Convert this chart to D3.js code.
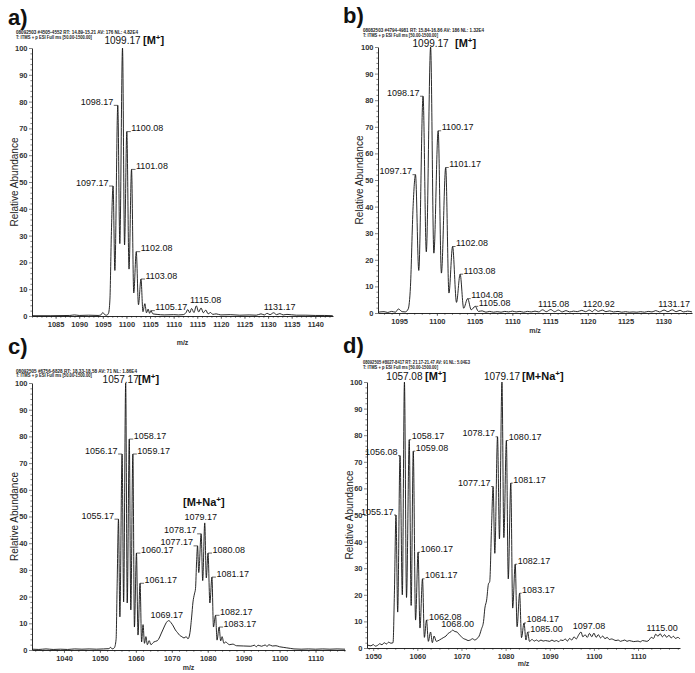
<!DOCTYPE html>
<html><head><meta charset="utf-8">
<script src="https://cdn.jsdelivr.net/npm/d3@7"></script>
<style>
body{margin:0;background:#fff}
svg text{font-family:'Liberation Sans',Arial,Helvetica,sans-serif}
</style></head><body>
<script>
// ---------------- DATA ----------------
const yTicks = [0,10,20,30,40,50,60,70,80,90,100];

// Panel a
const xTicksA = [1085,1090,1095,1100,1105,1110,1115,1120,1125,1130,1135,1140];
const spectrumA = [[1080,0.1],[1084,0.1],[1088,0.2],[1089,0.4],[1090,0.2],[1092,0.3],[1094,0.2],[1094.6,0.4],[1095.0,1.3],[1095.4,0.5],[1095.8,0.3],[1096.2,1.0],[1096.5,6],[1096.8,30],[1097.17,48.5],[1097.55,17],[1098.17,78.6],[1098.6,27],[1099.17,100],[1099.6,26.5],[1100.08,68.8],[1100.55,17.5],[1101.08,54.7],[1101.55,8.6],[1102.08,24],[1102.55,4.2],[1103.08,13.8],[1103.5,1.6],[1103.9,4.6],[1104.25,1.2],[1104.6,2.6],[1104.9,1.0],[1105.17,2.0],[1105.6,0.8],[1106.5,0.6],[1108,0.4],[1110,0.5],[1111,0.4],[1112,0.5],[1112.6,1.2],[1113.0,2.4],[1113.4,1.2],[1113.8,2.8],[1114.3,1.3],[1114.8,3.8],[1115.3,1.5],[1115.8,3.0],[1116.3,1.2],[1116.8,2.2],[1117.3,0.8],[1117.8,1.3],[1118.3,0.6],[1119,0.8],[1120,0.4],[1122,0.5],[1124,0.3],[1126,0.4],[1127.5,0.3],[1128.5,0.8],[1129.2,0.4],[1129.8,1.0],[1130.4,0.5],[1131.17,1.2],[1131.8,0.5],[1132.5,0.9],[1133.2,0.4],[1134,0.6],[1136,0.3],[1138,0.3],[1140,0.2],[1142,0.2],[1143.7,0.1]];
const labelsA = [[1099.17,100,"1099.17"],[1098.17,78.6,"1098.17"],[1097.17,48.5,"1097.17"],[1100.08,68.8,"1100.08"],[1101.08,54.7,"1101.08"],[1102.08,24,"1102.08"],[1103.08,13.8,"1103.08"],[1105.17,2.0,"1105.17"],[1115.08,3.8,"1115.08"],[1131.17,1.2,"1131.17"]];
const headerA = ["08092503 #4505-4552  RT: 14.89-15.21  AV: 176  NL: 4.82E4","T: ITMS + p ESI Full ms [50.00-1500.00]"];

// Panel b
const xTicksB = [1095,1100,1105,1110,1115,1120,1125,1130];
const spectrumB = [[1092.2,0.3],[1093,0.5],[1093.5,0.2],[1094,0.6],[1094.5,0.3],[1094.9,1.5],[1095.4,0.5],[1095.8,0.4],[1096.2,1.5],[1096.5,10],[1096.85,40],[1097.17,52],[1097.6,16],[1098.17,81.5],[1098.6,23],[1099.17,100],[1099.6,22.5],[1100.17,68.5],[1100.6,15],[1101.17,54.7],[1101.6,7.5],[1102.08,25],[1102.6,4],[1103.08,14.6],[1103.55,1.8],[1104.08,5.4],[1104.55,1.2],[1105.08,2.5],[1105.5,0.6],[1106,0.8],[1106.5,0.3],[1107,0.6],[1107.5,0.3],[1108,0.5],[1108.5,0.3],[1109,0.6],[1109.5,0.4],[1110,0.7],[1110.5,0.4],[1111,0.6],[1111.5,0.3],[1112,0.6],[1112.5,0.4],[1113,0.7],[1113.5,0.4],[1114,1.2],[1114.5,0.5],[1115.08,1.3],[1115.6,0.5],[1116.1,1.1],[1116.6,0.4],[1117.1,0.9],[1117.6,0.4],[1118.1,0.7],[1118.6,0.5],[1119.2,1.0],[1119.7,0.5],[1120.2,1.1],[1120.6,0.5],[1120.92,1.3],[1121.4,0.6],[1121.9,1.1],[1122.4,0.5],[1122.9,0.8],[1123.4,0.4],[1124,0.6],[1124.5,0.3],[1125,0.5],[1125.5,0.3],[1126,0.4],[1126.5,0.3],[1127,0.5],[1127.5,0.3],[1128,0.6],[1128.5,0.4],[1129,0.9],[1129.5,0.4],[1130.1,1.1],[1130.6,0.5],[1131.17,1.2],[1131.7,0.5],[1132.2,1.0],[1132.7,0.4],[1133.2,0.7],[1133.8,0.4]];
const labelsB = [[1099.17,100,"1099.17"],[1098.17,81.5,"1098.17"],[1097.17,52,"1097.17"],[1100.17,68.5,"1100.17"],[1101.17,54.7,"1101.17"],[1102.08,25,"1102.08"],[1103.08,14.6,"1103.08"],[1104.08,5.4,"1104.08"],[1105.08,2.5,"1105.08"],[1115.08,1.3,"1115.08"],[1120.92,1.3,"1120.92"],[1131.17,1.2,"1131.17"]];
const headerB = ["08082503 #4794-4981  RT: 15.84-16.86  AV: 186  NL: 1.32E4","T: ITMS + p ESI Full ms [50.00-1500.00]"];

// Panel c
const xTicksC = [1040,1050,1060,1070,1080,1090,1100,1110];
const spectrumC = [[1031.2,0.3],[1033,0.2],[1035,0.4],[1037,0.2],[1039,0.3],[1041,0.2],[1043,0.4],[1045,0.3],[1047,0.4],[1049,0.3],[1051,0.4],[1052.5,0.5],[1053,1.0],[1053.4,0.4],[1054,0.8],[1054.5,4],[1054.8,25],[1055.17,49],[1055.55,12.4],[1056.17,73.4],[1056.6,18],[1057.17,100],[1057.6,17.6],[1058.17,79],[1058.6,15],[1059.17,73.4],[1059.6,8.6],[1060.17,36.3],[1060.6,5.6],[1061.17,25],[1061.6,3],[1062.0,9.5],[1062.4,2.5],[1062.8,5],[1063.2,2],[1063.7,3.5],[1064.2,2],[1065,3],[1066,3.5],[1066.5,4.5],[1067,6],[1067.5,7.5],[1068,9],[1068.5,10.3],[1069.17,11],[1069.8,10.2],[1070.4,9],[1071,7.5],[1071.6,6.5],[1072.2,5.5],[1072.8,5],[1073.4,4.5],[1074,5],[1074.5,4.2],[1075,6],[1075.5,12],[1075.9,18],[1076.3,21],[1076.6,23],[1076.9,33],[1077.17,39],[1077.5,29],[1078.17,43.5],[1078.6,26],[1079.17,47.6],[1079.6,27],[1080.08,36.3],[1080.6,17.6],[1081.17,27.3],[1081.6,8.6],[1082.17,13],[1082.6,3.7],[1083.17,8.6],[1083.6,3.4],[1084.0,5],[1084.5,2.5],[1085,3],[1086,2],[1087,2.2],[1088,1.6],[1090,1.5],[1092,1.4],[1093,1.8],[1093.5,1.2],[1094,1.8],[1095,1.4],[1096,1.9],[1096.5,1.3],[1097,2.0],[1098,1.5],[1099,1.6],[1100,1.2],[1101,1.0],[1102,0.8],[1103,0.6],[1104,0.4],[1106,0.3],[1108,0.4],[1110,0.3],[1112,0.4],[1114,0.3],[1116,0.4],[1118.2,0.3]];
const labelsC = [[1057.17,100,"1057.17"],[1056.17,73.4,"1056.17"],[1055.17,49,"1055.17"],[1058.17,79,"1058.17"],[1059.17,73.4,"1059.17"],[1060.17,36.3,"1060.17"],[1061.17,25,"1061.17"],[1069.17,11,"1069.17"],[1077.17,39,"1077.17"],[1078.17,43.5,"1078.17"],[1079.17,47.6,"1079.17"],[1080.08,36.3,"1080.08"],[1081.17,27.3,"1081.17"],[1082.17,13,"1082.17"],[1083.17,8.6,"1083.17"]];
const headerC = ["08092505 #6756-6828  RT: 18.33-18.58  AV: 71  NL: 1.86E4","T: ITMS + p ESI Full ms [50.00-1500.00]"];

// Panel d
const xTicksD = [1050,1060,1070,1080,1090,1100,1110];
const spectrumD = [[1048.6,1.2],[1049.5,0.8],[1050,1.3],[1050.5,0.7],[1051,1.0],[1051.5,1.6],[1052,1.2],[1052.5,2],[1053,1.5],[1053.5,2.2],[1054,1.8],[1054.5,2],[1054.8,20],[1055.17,50],[1055.55,13.5],[1056.08,72.3],[1056.6,20],[1057.08,100],[1057.55,19],[1058.17,78.3],[1058.6,16],[1059.08,74],[1059.6,10.5],[1060.17,36],[1060.6,7.5],[1061.17,26],[1061.6,4],[1062.08,10.5],[1062.5,2.5],[1063,6],[1063.4,2],[1063.8,4.5],[1064.3,2.5],[1065,3],[1065.5,3.5],[1066,4],[1066.5,4.5],[1067,5.5],[1067.5,6],[1068,6.7],[1068.5,6.2],[1069,6],[1069.5,5],[1070,4.2],[1070.5,3.5],[1071,3.2],[1071.5,2.8],[1072,3],[1072.5,3.5],[1073,3],[1073.5,3.5],[1074,4.5],[1074.5,7],[1075,10],[1075.3,15],[1075.7,18],[1076.1,24],[1076.4,25],[1076.8,45],[1077.17,60.7],[1077.55,35.6],[1078.17,79.4],[1078.6,41],[1079.17,100],[1079.6,41.5],[1080.17,78],[1080.6,26],[1081.17,62],[1081.6,15],[1082.17,31.5],[1082.6,8],[1083.17,20.6],[1083.6,3.9],[1084.17,9.4],[1084.6,3],[1085.0,6],[1085.4,2.5],[1086,3.2],[1086.5,2.6],[1087,3],[1087.5,2.5],[1088,3],[1088.5,2.6],[1089,2.8],[1090,2.5],[1090.5,3],[1091,2.5],[1091.5,2.8],[1092,2.4],[1092.5,3.0],[1093,2.8],[1093.5,3.4],[1094,2.6],[1094.5,3.6],[1095,3.0],[1095.5,4.2],[1096,3.4],[1096.5,4.8],[1097.08,6],[1097.5,4.2],[1098,5],[1098.5,4],[1099,5.5],[1099.5,4.2],[1100,5.6],[1100.5,4],[1101,5],[1101.5,3.8],[1102,4.5],[1102.5,3.5],[1103,4],[1103.5,3.2],[1104,3.4],[1105,2.8],[1105.5,3],[1106,2.5],[1107,3],[1107.5,2.5],[1108,2.8],[1109,2.4],[1110,2.6],[1110.5,2.3],[1111,2.8],[1112,2.5],[1112.5,3],[1113,4],[1113.5,3.6],[1114,5.2],[1114.5,4.4],[1115,5.4],[1115.5,4.2],[1116,5],[1116.5,4],[1117,4.8],[1117.5,3.8],[1118,4.4],[1118.5,3.6],[1119,4],[1119.5,3.4]];
const labelsD = [[1057.08,100,"1057.08"],[1056.08,72.3,"1056.08"],[1055.17,50,"1055.17"],[1058.17,78.3,"1058.17"],[1059.08,74,"1059.08"],[1060.17,36,"1060.17"],[1061.17,26,"1061.17"],[1062.08,10.5,"1062.08"],[1068.00,6.7,"1068.00"],[1077.17,60.7,"1077.17"],[1078.17,79.4,"1078.17"],[1079.17,100,"1079.17"],[1080.17,78,"1080.17"],[1081.17,62,"1081.17"],[1082.17,31.5,"1082.17"],[1083.17,20.6,"1083.17"],[1084.17,9.4,"1084.17"],[1085.00,6,"1085.00"],[1097.08,6,"1097.08"],[1115.00,5.4,"1115.00"]];
const headerD = ["08092505 #8027-8417  RT: 21.17-21.47  AV: 91  NL: 5.04E3","T: ITMS + p ESI Full ms [50.00-1500.00]"];

// ---------------- LAYOUT ----------------
const panels = [
 {letter:"a)", spec:spectrumA, labels:labelsA, xt:xTicksA, minorStep:1, header:headerA, lead:4, mzGap:29,
  domain:[1080,1143.75], x0:32, x1:333, y0:316, y100:48, lx:8, ly:25, hx:16, hy:34, hw:[122,76], yl:15,
  side:{"1099.17":"main","1098.17":"left","1097.17":"left","1100.08":"right","1101.08":"right","1102.08":"right","1103.08":"right","1105.17":"right","1115.08":"top","1131.17":"top"},
  dx:{"1115.08":8,"1131.17":6}, mainGap:4.5, ions:[{t:"M",x:143,mz:1099.17}]},
 {letter:"b)", spec:spectrumB, labels:labelsB, xt:xTicksB, minorStep:1, header:headerB, lead:3, mzGap:20,
  domain:[1092.2,1133.8], x0:378, x1:692, y0:313, y100:47, lx:343, ly:23, hx:363, hy:32, hw:[121,75], yl:360,
  side:{"1099.17":"main","1098.17":"left","1097.17":"left","1100.17":"right","1101.17":"right","1102.08":"right","1103.08":"right","1104.08":"right","1105.08":"right","1115.08":"top","1120.92":"top","1131.17":"top"},
  dx:{"1115.08":3,"1120.92":4,"1131.17":2}, mainGap:0.5, ions:[{t:"M",x:455,mz:1099.17}]},
 {letter:"c)", spec:spectrumC, labels:labelsC, xt:xTicksC, minorStep:2, header:headerC, lead:4, mzGap:20,
  domain:[1031.1,1118.2], x0:32, x1:345, y0:650, y100:383, lx:8, ly:354, hx:16, hy:372.5, hw:[121,76], yl:15,
  side:{"1057.17":"main","1056.17":"left","1055.17":"left","1058.17":"right","1059.17":"right","1060.17":"right","1061.17":"right","1069.17":"top","1077.17":"left","1078.17":"left","1079.17":"top","1080.08":"right","1081.17":"right","1082.17":"right","1083.17":"right"},
  dx:{"1057.17":-5,"1079.17":-4,"1069.17":-2}, mainGap:0.5, ions:[{t:"M",x:138,mz:1057.17},{t:"M+Na",x:183,y:506}]},
 {letter:"d)", spec:spectrumD, labels:labelsD, xt:xTicksD, minorStep:2, header:headerD, lead:2, mzGap:18,
  domain:[1048.6,1119.5], x0:367, x1:680, y0:648, y100:382, lx:343, ly:353, hx:363, hy:364, hw:[107,75], yl:350,
  side:{"1057.08":"main","1056.08":"left","1055.17":"left","1058.17":"right","1059.08":"right","1060.17":"right","1061.17":"right","1062.08":"right","1068.00":"top","1077.17":"left","1078.17":"left","1079.17":"main","1080.17":"right","1081.17":"right","1082.17":"right","1083.17":"right","1084.17":"right","1085.00":"right","1097.08":"top","1115.00":"top"},
  dx:{"1097.08":8,"1068.00":5,"1115.00":2}, mainGap:2, ions:[{t:"M",x:425,mz:1057.08},{t:"M+Na",x:522,mz:1079.17}]}
];

// ---------------- DRAW ----------------
const W = 695, H = 673;
const svg = d3.select("body").append("svg").attr("width", W).attr("height", H)
  .style("display","block");

const FONT = "'Liberation Sans',Arial,sans-serif";

panels.forEach(P => {
  const g = svg.append("g");
  const sx = d3.scaleLinear().domain(P.domain).range([P.x0, P.x1]);
  const sy = d3.scaleLinear().domain([0,100]).range([P.y0, P.y100]);

  g.append("text").attr("x", P.lx).attr("y", P.ly).text(P.letter)
    .attr("font-size", 22).attr("font-weight", "bold").attr("fill","#111");

  P.header.forEach((h,i) => {
    g.append("text").attr("x", P.hx).attr("y", P.hy + i*4.6).text(h)
      .attr("font-size", 4.5).attr("font-weight","bold").attr("fill","#222")
      .attr("textLength", P.hw[i]).attr("lengthAdjust","spacingAndGlyphs");
  });

  // y axis
  const minorY = d3.range(0, 101, 2).filter(v => v % 10 !== 0);
  const yMinor = g.append("g").attr("transform", `translate(${P.x0},0)`)
    .call(d3.axisLeft(sy).tickValues(minorY).tickSize(1.6).tickSizeOuter(0).tickFormat(""));
  yMinor.select(".domain").remove();
  const yAx = g.append("g").attr("transform", `translate(${P.x0},0)`)
    .call(d3.axisLeft(sy).tickValues(yTicks).tickSize(3).tickSizeOuter(0).tickPadding(1.5));
  yAx.selectAll("text").attr("font-size", 7.5).attr("font-weight","bold").attr("fill","#333").attr("font-family",FONT);

  // x axis
  const minorX = d3.range(Math.ceil(P.domain[0]), P.domain[1], P.minorStep);
  const xMinor = g.append("g").attr("transform", `translate(0,${P.y0})`)
    .call(d3.axisBottom(sx).tickValues(minorX).tickSize(1.8).tickSizeOuter(0).tickFormat(""));
  xMinor.select(".domain").remove();
  const xAx = g.append("g").attr("transform", `translate(0,${P.y0})`)
    .call(d3.axisBottom(sx).tickValues(P.xt).tickSize(3).tickSizeOuter(0).tickPadding(3).tickFormat(d3.format("d")));
  xAx.selectAll("text").attr("font-size", 7.5).attr("font-weight","bold").attr("fill","#333").attr("font-family",FONT);
  g.selectAll(".domain").attr("stroke","#111").attr("stroke-width",0.9);
  g.selectAll(".tick line").attr("stroke","#333").attr("stroke-width",0.6);

  g.append("text").attr("x", (P.x0+P.x1)/2).attr("y", P.y0 + P.mzGap).attr("text-anchor","middle")
    .attr("font-size", 7).attr("font-weight","bold").attr("fill","#333").text("m/z");

  g.append("text").attr("transform", `translate(${P.yl},${(P.y0+P.y100)/2}) rotate(-90)`)
    .attr("text-anchor","middle").attr("dominant-baseline","middle")
    .attr("font-size", 10).attr("fill","#222").text("Relative Abundance");

  // spectrum
  const line = d3.line().x(d => sx(d[0])).y(d => sy(d[1])).curve(d3.curveMonotoneX);
  g.append("path").datum(P.spec).attr("d", line)
    .attr("fill","none").attr("stroke","#111").attr("stroke-width",0.9).attr("stroke-linejoin","round");

  // labels
  const lead = P.lead;
  P.labels.forEach(([mz, ab, t]) => {
    const px = sx(mz), py = sy(ab);
    const side = P.side[t] || "top";
    const dx = (P.dx && P.dx[t]) || 0;
    if (side === "left" || side === "right") {
      const s = side === "left" ? -1 : 1;
      g.append("path").attr("d", `M${px},${py}H${px + s*lead}`)
        .attr("stroke","#222").attr("stroke-width",0.7).attr("fill","none");
      g.append("text").attr("x", px + s*(lead+0.5)).attr("y", py - 0.5)
        .attr("text-anchor", side === "left" ? "end" : "start")
        .attr("font-size", 9).attr("fill","#111").text(t);
    } else if (side === "main") {
      g.append("text").attr("x", px + dx).attr("y", py - P.mainGap)
        .attr("text-anchor","middle").attr("font-size", 10).attr("fill","#111").text(t);
    } else {
      g.append("text").attr("x", px + dx).attr("y", py - 3)
        .attr("text-anchor","middle").attr("font-size", 9).attr("fill","#111").text(t);
    }
  });

  // ion annotations
  P.ions.forEach(ion => {
    const y = ion.y !== undefined ? ion.y : sy(100) - P.mainGap;
    const tx = g.append("text").attr("x", ion.x).attr("y", y)
      .attr("font-size", 11).attr("font-weight","bold").attr("fill","#111");
    tx.append("tspan").text("[" + ion.t);
    tx.append("tspan").attr("font-size", 8).attr("dy", -4).text("+");
    tx.append("tspan").attr("dy", 4).text("]");
  });
});
</script>
</body></html>
